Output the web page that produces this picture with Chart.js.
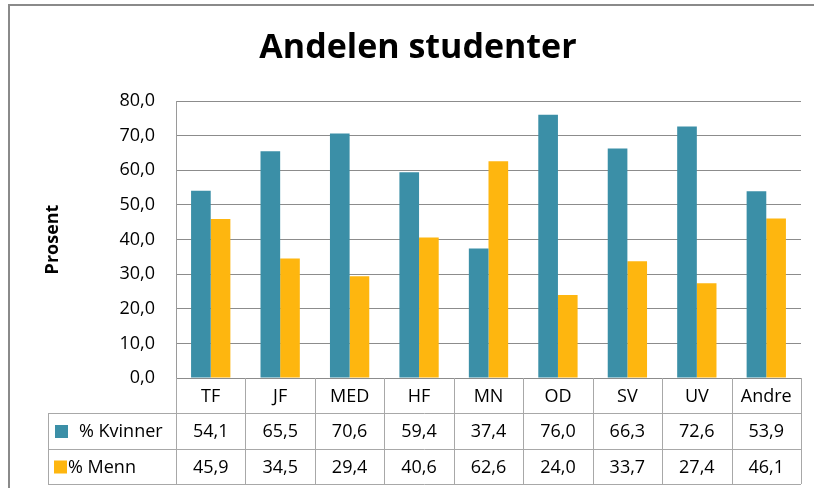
<!DOCTYPE html>
<html>
<head>
<meta charset="utf-8">
<script src="https://cdn.jsdelivr.net/npm/chart.js@4"></script>
<style>
  html, body { margin: 0; padding: 0; background: #fff; }
  #wrap { width: 814px; height: 488px; }
</style>
</head>
<body>
<div id="wrap"><canvas id="chart" width="814" height="488"></canvas></div>
<script>
// data
const categories = ['TF', 'JF', 'MED', 'HF', 'MN', 'OD', 'SV', 'UV', 'Andre'];
const kvinner = [54.1, 65.5, 70.6, 59.4, 37.4, 76.0, 66.3, 72.6, 53.9];
const menn = [45.9, 34.5, 29.4, 40.6, 62.6, 24.0, 33.7, 27.4, 46.1];
const seriesNames = ['% Kvinner', '% Menn'];
const yTicks = [0, 10, 20, 30, 40, 50, 60, 70, 80];
const chartTitle = 'Andelen studenter';

const TEAL = '#3b8fa7';
const ORANGE = '#feb60f';
const FONT = '"Open Sans", "Noto Sans", sans-serif';

const fmt = v => v.toFixed(1).replace('.', ',');

// frame, title and data table under the plot
const tablePlugin = {
  id: 'dataTable',
  beforeDraw(chart) {
    const ctx = chart.ctx;
    ctx.save();
    ctx.fillStyle = '#fff';
    ctx.fillRect(0, 0, chart.width, chart.height);
    ctx.strokeStyle = '#8a8a8a';
    ctx.lineWidth = 2;
    ctx.beginPath();
    ctx.moveTo(9, chart.height);
    ctx.lineTo(9, 5);
    ctx.lineTo(chart.width, 5);
    ctx.stroke();

    // title (Excel centres it a bit right of the canvas middle)
    ctx.fillStyle = '#000';
    ctx.font = 'bold 34px ' + FONT;
    ctx.textAlign = 'center';
    ctx.textBaseline = 'middle';
    ctx.fillText(chartTitle, 418, 48);
    ctx.restore();
  },
  afterDraw(chart) {
    const ctx = chart.ctx;
    const area = chart.chartArea;
    const n = categories.length;
    const cw = (area.right - area.left) / n;
    const y0 = area.bottom;
    const y1 = y0 + 35;
    const y2 = y1 + 36;
    const y3 = y2 + 35;
    const tableLeft = 48;

    ctx.save();
    ctx.strokeStyle = '#a8a8a8';
    ctx.lineWidth = 1;
    ctx.beginPath();
    for (let i = 0; i <= n; i++) {
      const x = Math.round(area.left + i * cw) + 0.5;
      ctx.moveTo(x, y0);
      ctx.lineTo(x, y3);
    }
    [y1, y2, y3].forEach(y => {
      ctx.moveTo(tableLeft, Math.round(y) + 0.5);
      ctx.lineTo(area.right, Math.round(y) + 0.5);
    });
    ctx.moveTo(tableLeft + 0.5, y1);
    ctx.lineTo(tableLeft + 0.5, y3);
    ctx.stroke();

    ctx.fillStyle = '#000';
    ctx.font = '18px ' + FONT;
    ctx.textAlign = 'center';
    ctx.textBaseline = 'middle';
    const xs = categories.map((c, i) => chart.scales.x.getPixelForValue(i));
    categories.forEach((c, i) => ctx.fillText(c, xs[i], (y0 + y1) / 2 + 1));
    kvinner.forEach((v, i) => ctx.fillText(fmt(v), xs[i], (y1 + y2) / 2 + 1));
    menn.forEach((v, i) => ctx.fillText(fmt(v), xs[i], (y2 + y3) / 2 + 1));

    // legend keys
    ctx.textAlign = 'left';
    ctx.fillStyle = TEAL;
    ctx.fillRect(55, (y1 + y2) / 2 - 6, 13, 13);
    ctx.fillStyle = ORANGE;
    ctx.fillRect(54, (y2 + y3) / 2 - 6, 13, 13);
    ctx.fillStyle = '#000';
    ctx.fillText(seriesNames[0], 79, (y1 + y2) / 2 + 1);
    ctx.fillText(seriesNames[1], 68, (y2 + y3) / 2 + 1);
    ctx.restore();
  }
};

new Chart(document.getElementById('chart'), {
  type: 'bar',
  data: {
    labels: categories,
    datasets: [
      { label: seriesNames[0], data: kvinner, backgroundColor: TEAL },
      { label: seriesNames[1], data: menn, backgroundColor: ORANGE }
    ]
  },
  options: {
    responsive: false,
    animation: false,
    layout: { padding: { left: 8, right: 13, top: 101, bottom: 102 } },
    datasets: { bar: { categoryPercentage: 0.566, barPercentage: 1.0 } },
    plugins: {
      legend: { display: false },
      tooltip: { enabled: false },
      title: { display: false }
    },
    scales: {
      x: {
        ticks: { display: false },
        grid: { display: false },
        border: { display: false }
      },
      y: {
        min: 0,
        max: 80,
        afterBuildTicks(scale) { scale.ticks = yTicks.map(v => ({ value: v })); },
        afterFit(scale) { scale.width = 168; },
        ticks: {
          padding: 21,
          color: '#000',
          font: { family: FONT, size: 18 },
          callback: v => fmt(v)
        },
        grid: { color: '#8c8c8c', drawTicks: false },
        border: { display: true, color: '#9a9a9a' },
        title: {
          display: true,
          text: 'Prosent',
          color: '#000',
          font: { family: FONT, size: 18, weight: 'bold' },
          padding: { top: 34, bottom: 0 }
        }
      }
    }
  },
  plugins: [tablePlugin]
});
</script>
</body>
</html>
